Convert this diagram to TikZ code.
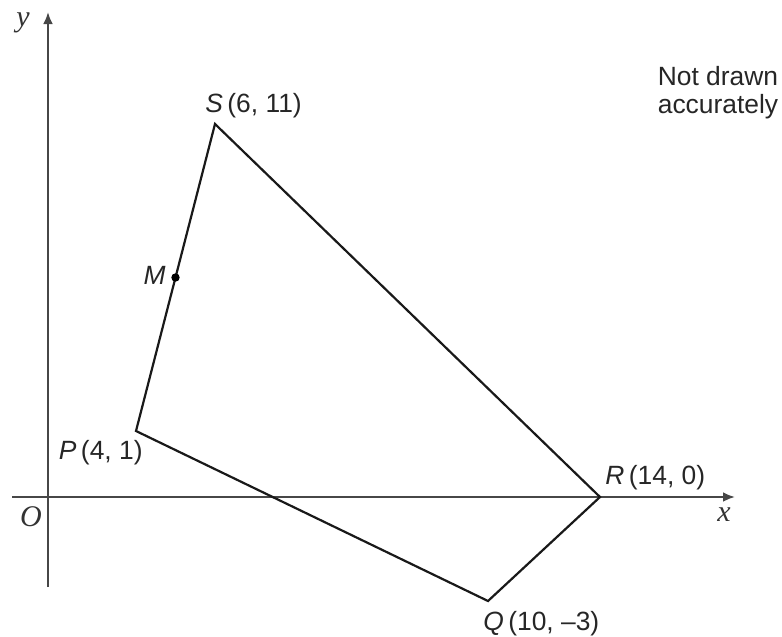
\documentclass[tikz,border=0pt]{standalone}
\usepackage{fontspec}
\setmainfont{Liberation Sans}
\newfontfamily\axisfont{Liberation Serif}
\usepackage{tikz}
\usetikzlibrary{arrows.meta,calc}

\begin{document}
\begin{tikzpicture}[
  x=0.5pt,y=-0.5pt,
  axis/.style={draw=black!72,line width=1.3pt,-{Latex[length=6pt,width=5pt]}},
  quad/.style={draw=black!90,line width=1.1pt,line join=miter},
  lab/.style={font=\fontsize{13.2}{15.5}\selectfont,inner sep=0pt,text=black!85},
  axlab/.style={font=\axisfont\itshape\fontsize{15}{18}\selectfont,inner sep=0pt,text=black!80}]
  \useasboundingbox (0,0) rectangle (782,637);
  % axes
  \coordinate (O) at (48,497);
  \coordinate (xmin) at (12,497);
  \coordinate (xmax) at (735,497);
  \coordinate (ymin) at (48,587);
  \coordinate (ymax) at (48,12);
  \draw[axis] (xmin) -- (xmax);
  \draw[axis] (ymin) -- (ymax);
  \node[axlab] (xlab) at (724,515) {x};
  \node[axlab] (ylab) at (23,23) {y};
  \node[axlab] (olab) at (31,517) {O};
  % quadrilateral PQRS
  \coordinate (P) at (136,431);
  \coordinate (Q) at (488,601);
  \coordinate (R) at (600,497);
  \coordinate (S) at (215,124);
  \coordinate (M) at ($(P)!0.5!(S)$);
  \draw[quad] (P) -- (Q) -- (R) -- (S) -- cycle;
  \fill[black] (M) circle[radius=2.1pt];
  \node[lab,anchor=south west] (slab) at (205,118) {\textit{S}\,(6, 11)};
  \node[lab,anchor=north east] (plab) at (143,440) {\textit{P}\,(4, 1)};
  \node[lab,anchor=south west] (rlab) at (605,490) {\textit{R}\,(14, 0)};
  \node[lab,anchor=north west] (qlab) at (483,611) {\textit{Q}\,(10, --3)};
  \node[lab,anchor=east] (mlab) at (166,275) {\textit{M}};
  \node[lab,align=left] (note) at (718,93) {Not drawn\\[-1.5pt]accurately};
\end{tikzpicture}
\end{document}
